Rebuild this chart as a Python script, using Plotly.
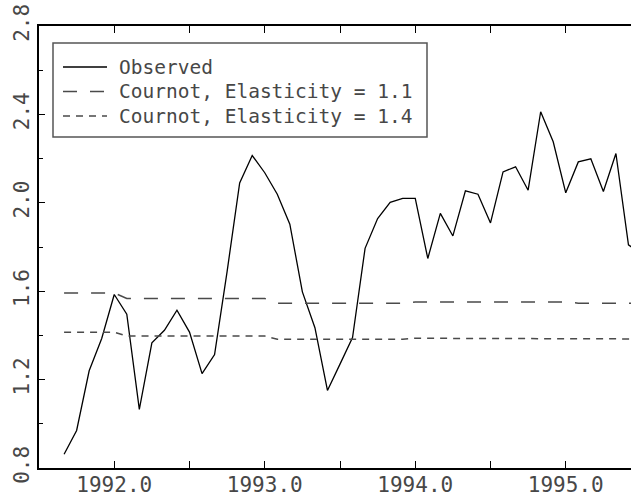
import pandas as pd
import plotly.graph_objects as go

# monthly observations, Sep 1991 - Jul 1995
months = pd.date_range("1991-09-01", periods=47, freq="MS")
time = [d.year + (d.month - 1) / 12 for d in months]

observed = [
    0.862, 0.970, 1.240, 1.386,
    1.585, 1.496, 1.065, 1.366, 1.423, 1.514, 1.415, 1.227, 1.313, 1.690, 2.090, 2.214,
    2.136, 2.039, 1.903, 1.597, 1.435, 1.151, 1.270, 1.390, 1.794, 1.929, 2.002, 2.020,
    2.020, 1.748, 1.952, 1.850, 2.054, 2.039, 1.909, 2.140, 2.163, 2.057, 2.412, 2.276,
    2.045, 2.185, 2.199, 2.051, 2.223, 1.810, 1.770,
]
cournot_11 = [1.592] * 5 + [1.567] * 12 + [1.546] * 11 + [1.551] * 13 + [1.546] * 6
cournot_14 = [1.414] * 5 + [1.397] * 12 + [1.383] * 11 + [1.387] * 13 + [1.384] * 6

names = ["Observed", "Cournot, Elasticity = 1.1", "Cournot, Elasticity = 1.4"]
styles = [
    dict(color="black", width=1.3, dash="solid"),
    dict(color="#4a4a4a", width=1.5, dash="14px,13px"),
    dict(color="#4a4a4a", width=1.5, dash="7px,6px"),
]

mono = "DejaVu Sans Mono"
txt = "#474747"

W, H = 631, 498
L, R, T, B = 39, 0, 26, 30
pw, ph = W - L - R, H - T - B

fig = go.Figure()
for name, y, st in zip(names, [observed, cournot_11, cournot_14], styles):
    fig.add_trace(go.Scatter(x=time, y=y, mode="lines", name=name, line=st,
                             showlegend=False))

# hand-made legend box in the upper left corner
def px_x(p):
    return (p - L) / pw

def px_y(p):
    return (H - B - p) / ph

fig.add_shape(type="rect", xref="paper", yref="paper",
              x0=px_x(53), x1=px_x(427), y0=px_y(137), y1=px_y(43),
              line=dict(color="#555555", width=1.5), fillcolor="white")
for i, (name, st) in enumerate(zip(names, styles)):
    yc = px_y(67 + 24.5 * i)
    fig.add_shape(type="line", xref="paper", yref="paper",
                  x0=px_x(63), x1=px_x(107), y0=yc, y1=yc, line=st)
    fig.add_annotation(xref="paper", yref="paper", x=px_x(117), y=yc,
                       xanchor="left", yanchor="middle", showarrow=False,
                       text=name, font=dict(family=mono, size=19.5, color=txt))

fig.update_layout(
    width=W, height=H,
    margin=dict(l=L, r=R, t=T, b=B),
    plot_bgcolor="white", paper_bgcolor="white",
    font=dict(family=mono, size=20, color=txt),
    showlegend=False,
)
fig.update_xaxes(
    range=[1991.5, 1991.5 + pw / 150.5], automargin=False,
    tick0=1992, dtick=1, tickformat=".1f",
    ticks="inside", ticklen=7, tickwidth=1, tickcolor="black",
    minor=dict(dtick=0.5, ticks="inside", ticklen=7, tickcolor="black"),
    showline=True, linecolor="black", linewidth=2, mirror="ticks",
    showgrid=False, zeroline=False, ticklabelstandoff=-3,
    tickfont=dict(family=mono, size=21, color=txt),
)
fig.update_yaxes(
    range=[0.8, 2.8], automargin=False,
    tick0=0.8, dtick=0.4, tickformat=".1f", tickangle=-90,
    ticks="inside", ticklen=6, tickwidth=1, tickcolor="black",
    minor=dict(dtick=0.2, ticks="inside", ticklen=4, tickcolor="black"),
    showline=True, linecolor="black", linewidth=2,
    showgrid=False, zeroline=False,
    tickfont=dict(family=mono, size=21, color=txt),
)

# the page's default body margin would push the figure off its 631x498 frame
fig.write_html("out.html", config={"displayModeBar": False},
               post_script="document.body.style.margin = '0';")
